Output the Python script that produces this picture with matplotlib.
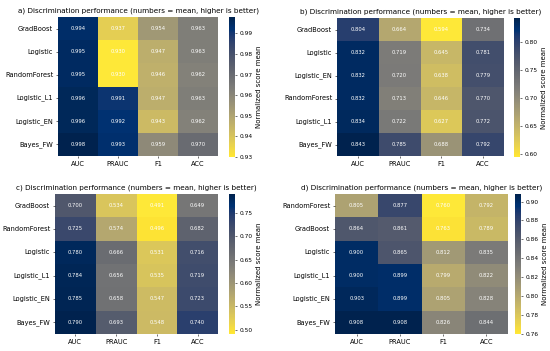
import numpy as np
import pandas as pd
import matplotlib
matplotlib.use('Agg')
import matplotlib.pyplot as plt
import seaborn as sns

metrics = ['AUC', 'PRAUC', 'F1', 'ACC']

# panel a
models_a = ['GradBoost', 'Logistic', 'RandomForest', 'Logistic_L1', 'Logistic_EN', 'Bayes_FW']
auc_a = [0.994, 0.995, 0.995, 0.996, 0.996, 0.998]
prauc_a = [0.937, 0.930, 0.930, 0.991, 0.992, 0.993]
f1_a = [0.954, 0.947, 0.946, 0.947, 0.943, 0.959]
acc_a = [0.963, 0.963, 0.962, 0.963, 0.962, 0.970]

# panel b
models_b = ['GradBoost', 'Logistic', 'Logistic_EN', 'RandomForest', 'Logistic_L1', 'Bayes_FW']
auc_b = [0.804, 0.832, 0.832, 0.832, 0.834, 0.843]
prauc_b = [0.664, 0.719, 0.720, 0.713, 0.722, 0.785]
f1_b = [0.594, 0.645, 0.638, 0.646, 0.627, 0.688]
acc_b = [0.734, 0.781, 0.779, 0.770, 0.772, 0.792]

# panel c
models_c = ['GradBoost', 'RandomForest', 'Logistic', 'Logistic_L1', 'Logistic_EN', 'Bayes_FW']
auc_c = [0.700, 0.725, 0.780, 0.784, 0.785, 0.790]
prauc_c = [0.534, 0.574, 0.666, 0.656, 0.658, 0.693]
f1_c = [0.491, 0.496, 0.531, 0.535, 0.547, 0.548]
acc_c = [0.649, 0.682, 0.716, 0.719, 0.723, 0.740]

# panel d
models_d = ['RandomForest', 'GradBoost', 'Logistic', 'Logistic_L1', 'Logistic_EN', 'Bayes_FW']
auc_d = [0.805, 0.864, 0.900, 0.900, 0.903, 0.908]
prauc_d = [0.877, 0.861, 0.865, 0.899, 0.899, 0.908]
f1_d = [0.760, 0.763, 0.812, 0.799, 0.805, 0.826]
acc_d = [0.792, 0.789, 0.835, 0.822, 0.828, 0.844]

panels = [
    ('a', models_a, [auc_a, prauc_a, f1_a, acc_a]),
    ('b', models_b, [auc_b, prauc_b, f1_b, acc_b]),
    ('c', models_c, [auc_c, prauc_c, f1_c, acc_c]),
    ('d', models_d, [auc_d, prauc_d, f1_d, acc_d]),
]

W, H = 550, 351
# pixel boxes (left, top, right, bottom) for heatmap and colorbar of each panel
boxes = [
    ((58, 17, 218, 156), (229, 17, 235, 157)),
    ((337, 18, 504, 156), (514, 18, 520, 157)),
    ((55, 194, 218, 334), (229, 194, 235, 334)),
    ((335, 194, 508, 334), (515, 194, 521, 334)),
]


def frac(box):
    l, t, r, b = box
    return [l / W, 1 - b / H, (r - l) / W, (b - t) / H]


fig = plt.figure(figsize=(11, 7.02), dpi=50)

for (tag, models, cols), (hbox, cbox) in zip(panels, boxes):
    ax = fig.add_axes(frac(hbox))
    cax = fig.add_axes(frac(cbox))
    df = pd.DataFrame(np.array(cols).T, index=models, columns=metrics)
    sns.heatmap(df, ax=ax, cbar_ax=cax, cmap='cividis_r', annot=True, fmt='.3f',
                annot_kws={'color': 'white', 'fontsize': 7.5})
    ax.set_title('{0}) Discrimination performance (numbers = mean, higher is better)'.format(tag), fontsize=10.5)
    ax.tick_params(axis='both', labelsize=9.5)
    ax.tick_params(axis='y', rotation=0)
    cax.tick_params(labelsize=8.5)
    cax.set_ylabel('Normalized score mean', fontsize=10)

plt.savefig('out.png', dpi=50)
